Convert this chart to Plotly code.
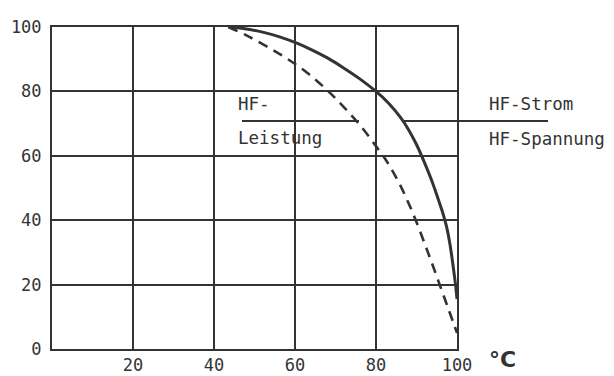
import plotly.graph_objects as go

# HF-Strom / HF-Spannung (solid)
strom_x = [44, 48, 52, 56, 60, 64, 68, 72, 76, 80, 83, 86, 88, 90, 92, 94, 95.5, 96.3, 97, 97.6, 98.2, 98.8, 99.3, 99.7, 100]
strom_y = [100, 99.4, 98.4, 97.0, 95.2, 93.0, 90.4, 87.3, 83.9, 80.0, 76.5, 72.0, 68.2, 63.5, 57.8, 51.5, 46.0, 43.0, 40.0, 37.0, 33.0, 28.0, 23.3, 19.3, 15.5]

# HF-Leistung (dashed)
leist_x = [43.5, 48, 53, 58, 63, 68, 72, 76, 80, 83, 86, 89, 92, 94, 96, 98, 100]
leist_y = [100, 97.4, 94.0, 90.2, 85.8, 80.3, 75.2, 69.6, 63.0, 57.6, 50.8, 42.5, 32.8, 26.0, 19.0, 12.0, 5.0]

x_ticks = [20, 40, 60, 80, 100]
y_ticks = [0, 20, 40, 60, 80, 100]

ink = "#333333"
font = "DejaVu Sans Mono"

fig = go.Figure()
fig.add_trace(go.Scatter(x=strom_x, y=strom_y, mode="lines",
                         line=dict(color=ink, width=3, shape="spline", smoothing=1.0), showlegend=False))
fig.add_trace(go.Scatter(x=leist_x, y=leist_y, mode="lines",
                         line=dict(color=ink, width=2.6, shape="spline", smoothing=1.0, dash="10px,7px"),
                         showlegend=False))

# leader lines (paper coordinates: plot spans px 52..457 x, 27..349 y)
def px_x(p):
    return (p - 52) / 405.0

def px_y(p):
    return (349 - p) / 322.0

fig.add_shape(type="line", x0=px_x(242), x1=px_x(359), y0=px_y(121), y1=px_y(121),
              xref="paper", yref="paper", line=dict(color=ink, width=2))
fig.add_shape(type="line", x0=px_x(403), x1=px_x(548), y0=px_y(121), y1=px_y(121),
              xref="paper", yref="paper", line=dict(color=ink, width=2))

ann = [
    (236, 104, "HF-"),
    (236, 138, "Leistung"),
    (487, 104, "HF-Strom"),
    (487, 139, "HF-Spannung"),
]
for x, y, t in ann:
    fig.add_annotation(xref="paper", yref="paper", x=px_x(x), y=px_y(y), text=t,
                       showarrow=False, xanchor="left", yanchor="middle",
                       font=dict(family=font, size=17.5, color=ink))
fig.add_annotation(xref="paper", yref="paper", x=px_x(502), y=px_y(360), text="<b>°C</b>",
                   showarrow=False, xanchor="center", yanchor="middle",
                   font=dict(family="DejaVu Sans", size=22, color=ink))

fig.update_xaxes(range=[0, 100], tickvals=x_ticks, ticktext=[str(v) for v in x_ticks],
                 showgrid=True, gridcolor=ink, gridwidth=1.6, zeroline=False,
                 showline=True, linecolor=ink, linewidth=2, mirror=True, automargin=False,
                 ticks="", tickfont=dict(family=font, size=17, color=ink), ticklabelstandoff=0)
fig.update_yaxes(range=[0, 100], tickvals=y_ticks, ticktext=[str(v) for v in y_ticks],
                 showgrid=True, gridcolor=ink, gridwidth=1.6, zeroline=False,
                 showline=True, linecolor=ink, linewidth=2, mirror=True, automargin=False,
                 ticks="", tickfont=dict(family=font, size=17, color=ink), ticklabelstandoff=5)

# page body has an 8px margin, compensate so the plot area lands at px 52..457 / 27..349
fig.update_layout(width=606, height=368, margin=dict(l=44, r=157, t=19, b=27),
                  plot_bgcolor="white", paper_bgcolor="white")
fig.write_html("out.html")
